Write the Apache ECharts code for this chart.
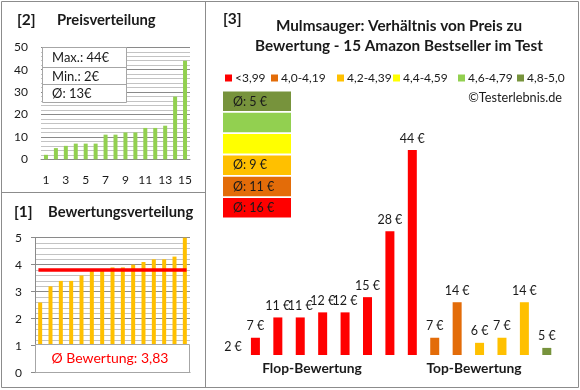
<!DOCTYPE html>
<html>
<head>
<meta charset="utf-8">
<script src="https://cdn.jsdelivr.net/npm/echarts@6/dist/echarts.min.js"></script>
<style>
html,body{margin:0;padding:0;background:#fff;}
#c{width:580px;height:390px;}
</style>
</head>
<body>
<div id="c"></div>
<script>
// ---- data ----
const rankLabels = ['1','2','3','4','5','6','7','8','9','10','11','12','13','14','15'];
const sortedPrices = [2, 5, 6, 7, 7, 7, 11, 11, 12, 12, 14, 14, 15, 28, 44];
const sortedRatings = [2.6, 3.2, 3.4, 3.4, 3.6, 3.8, 3.8, 3.9, 3.9, 4.0, 4.1, 4.2, 4.2, 4.3, 5.0];
const productPrices = [2, 7, 11, 11, 12, 12, 15, 28, 44, 7, 14, 6, 7, 14, 5];
const productClass = [0, 0, 0, 0, 0, 0, 0, 0, 0, 1, 1, 2, 2, 2, 5];
const ratingClasses = ['<3,99', '4,0-4,19', '4,2-4,39', '4,4-4,59', '4,6-4,79', '4,8-5,0'];
const classColors = ['#FF0000', '#E36C09', '#FFC000', '#FFFF00', '#92D050', '#77933C'];
const classAvgPrices = [16, 11, 9, null, null, 5];
const groupLabels = ['Flop-Bewertung', 'Top-Bewertung'];
const priceAxisMin = 3.6, priceAxisMax = 44;

const FONT = 'Lato, "Liberation Sans", sans-serif';
const avgRating = sortedRatings.reduce((a, b) => a + b, 0) / sortedRatings.length;
const avgPrice = sortedPrices.reduce((a, b) => a + b, 0) / sortedPrices.length;
const maxPrice = Math.max(...sortedPrices), minPrice = Math.min(...sortedPrices);

const chart = echarts.init(document.getElementById('c'), null, {renderer: 'canvas'});

function txt(x, y, text, size, weight, color, align) {
  return {type: 'text', x: x, y: y, z: 100, style: {text: text, font: (weight || 'normal') + ' ' + size + 'px ' + FONT,
    fill: color || '#1a1a1a', align: align || 'left', verticalAlign: 'middle'}};
}

const graphics = [
  // panel borders
  {type: 'rect', shape: {x: 1.5, y: 1.5, width: 577, height: 386}, style: {fill: 'none', stroke: '#8c8c8c', lineWidth: 1}, z: 50},
  {type: 'line', shape: {x1: 205.5, y1: 1.5, x2: 205.5, y2: 387.5}, style: {stroke: '#8c8c8c', lineWidth: 1}, z: 50},
  {type: 'line', shape: {x1: 1.5, y1: 192.5, x2: 205.5, y2: 192.5}, style: {stroke: '#8c8c8c', lineWidth: 1}, z: 50},
  // titles
  txt(17, 20, '[2]', 15.5, 'bold'),
  txt(57, 20, 'Preisverteilung', 14.8, 'bold'),
  txt(14, 212, '[1]', 15.5, 'bold'),
  txt(48, 212, 'Bewertungsverteilung', 14.8, 'bold'),
  txt(223, 19, '[3]', 15.5, 'bold'),
  txt(399, 26, 'Mulmsauger: Verhältnis von Preis zu', 15.3, 'bold', '#1a1a1a', 'center'),
  txt(399, 46, 'Bewertung - 15 Amazon Bestseller im Test', 15.3, 'bold', '#1a1a1a', 'center'),
  txt(562, 98, '©Testerlebnis.de', 12.7, 'normal', '#1a1a1a', 'right'),
  txt(312, 369, groupLabels[0], 13.8, 'bold', '#1a1a1a', 'center'),
  txt(474, 369, groupLabels[1], 13.8, 'bold', '#1a1a1a', 'center'),
  // info box top-left
  {type: 'rect', z: 90, shape: {x: 42.5, y: 47.5, width: 84, height: 55}, style: {fill: '#fff', stroke: '#a6a6a6', lineWidth: 1}},
  {type: 'line', z: 91, shape: {x1: 42.5, y1: 67.5, x2: 126.5, y2: 67.5}, style: {stroke: '#a6a6a6', lineWidth: 1}},
  {type: 'line', z: 91, shape: {x1: 42.5, y1: 84.5, x2: 126.5, y2: 84.5}, style: {stroke: '#a6a6a6', lineWidth: 1}},
  txt(52, 58, 'Max.: ' + maxPrice + '€', 13),
  txt(52, 76.5, 'Min.: ' + minPrice + '€', 13),
  txt(52, 93.5, 'Ø: ' + Math.round(avgPrice) + '€', 13),
  // rating box bottom-left
  {type: 'rect', z: 90, shape: {x: 35.5, y: 344.5, width: 154, height: 28}, style: {fill: '#fff', stroke: '#a6a6a6', lineWidth: 1}},
  txt(110, 358.5, 'Ø Bewertung: ' + avgRating.toFixed(2).replace('.', ','), 14, 'normal', '#FF0000', 'center')
];
// legend (rating classes)
const legendX = [225, 271, 337, 393, 458, 517];
ratingClasses.forEach((name, k) => {
  graphics.push({type: 'rect', z: 100, shape: {x: legendX[k], y: 74.5, width: 7, height: 7}, style: {fill: classColors[k]}});
  graphics.push(txt(legendX[k] + 10, 78, name, 12));
});
// average price boxes (top = best class)
for (let k = 5; k >= 0; k--) {
  const row = 5 - k;
  const top = 91.5 + row * 21.3;
  graphics.push({type: 'rect', z: 80, shape: {x: 223, y: top, width: 68, height: 19.5}, style: {fill: classColors[k]}});
  if (classAvgPrices[k] !== null) {
    graphics.push(txt(233, top + 10, 'Ø: ' + classAvgPrices[k] + ' €', 12.5));
  }
}

const gridLineMajor = '#8a8a8a', gridLineMinor = '#c3c3c3';
const barLabel = {fontSize: 12.5, color: '#1a1a1a', fontFamily: FONT};

const option = {
  animation: false,
  textStyle: {fontFamily: FONT},
  grid: [
    {left: 41, top: 47.3, width: 149, height: 112},
    {left: 35, top: 237.7, width: 155, height: 135},
    {left: 221.8, top: 150, width: 336.2, height: 205}
  ],
  xAxis: [
    {gridIndex: 0, type: 'category', data: rankLabels, axisLine: {lineStyle: {color: gridLineMajor}},
      axisTick: {show: false}, axisLabel: {interval: 1, margin: 15, color: '#1a1a1a', fontSize: 12, fontFamily: FONT}},
    {gridIndex: 1, type: 'category', data: rankLabels, axisLine: {lineStyle: {color: gridLineMajor}},
      axisTick: {show: false}, axisLabel: {show: false}},
    {gridIndex: 2, type: 'category', data: rankLabels, show: false}
  ],
  yAxis: [
    {gridIndex: 0, type: 'value', min: 0, max: 50, interval: 10, axisLine: {show: false}, axisTick: {show: false},
      axisLabel: {margin: 13, color: '#1a1a1a', fontSize: 12, fontFamily: FONT},
      splitLine: {lineStyle: {color: gridLineMajor}}, minorTick: {show: false, splitNumber: 5},
      minorSplitLine: {show: true, lineStyle: {color: gridLineMinor}}},
    {gridIndex: 1, type: 'value', min: 0, max: 5, interval: 1, axisLine: {show: true, lineStyle: {color: gridLineMajor}},
      axisTick: {show: true, length: 4, lineStyle: {color: gridLineMajor}},
      axisLabel: {margin: 13, color: '#1a1a1a', fontSize: 12, fontFamily: FONT},
      splitLine: {lineStyle: {color: gridLineMajor}}, minorTick: {show: false, splitNumber: 5},
      minorSplitLine: {show: true, lineStyle: {color: gridLineMinor}}},
    {gridIndex: 2, type: 'value', min: priceAxisMin, max: priceAxisMax, show: false, splitLine: {show: false}}
  ],
  series: [
    {type: 'bar', xAxisIndex: 0, yAxisIndex: 0, data: sortedPrices, barWidth: 4, itemStyle: {color: '#92D050'}},
    {type: 'bar', xAxisIndex: 1, yAxisIndex: 1, data: sortedRatings, barWidth: 4, itemStyle: {color: '#FFC000'},
      markLine: {silent: true, symbol: 'none', label: {show: false},
        lineStyle: {color: '#FF0000', width: 3.5, type: 'solid', cap: 'square'},
        data: [[{coord: [rankLabels[0], avgRating]}, {coord: [rankLabels[rankLabels.length - 1], avgRating]}]]}},
    {type: 'bar', xAxisIndex: 2, yAxisIndex: 2, barWidth: 9,
      data: productPrices.map((v, i) => ({value: v, itemStyle: {color: classColors[productClass[i]]}})),
      label: Object.assign({show: true, position: 'top', distance: 5, formatter: '{c} €'}, barLabel),
      markPoint: {symbol: 'rect', symbolSize: 0, silent: true,
        label: Object.assign({show: true, position: 'top', distance: 2, formatter: '{c} €'}, barLabel),
        data: productPrices.map((v, i) => ({v: v, i: i})).filter(d => d.v < priceAxisMin)
          .map(d => ({coord: [rankLabels[d.i], priceAxisMin], value: d.v}))}}
  ],
  graphic: graphics
};
chart.setOption(option);
</script>
</body>
</html>
